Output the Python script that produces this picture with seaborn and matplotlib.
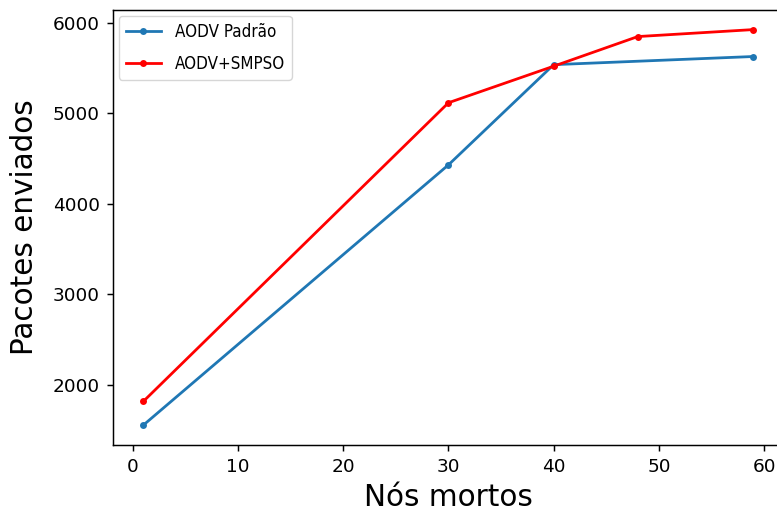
import matplotlib
matplotlib.use('Agg')
import matplotlib.pyplot as plt
import seaborn as sns

nos_padrao = [1, 30, 40, 59]
pacotes_padrao = [1560, 4430, 5535, 5625]

nos_smpso = [1, 30, 40, 48, 59]
pacotes_smpso = [1822, 5115, 5518, 5845, 5922]

# the reference looks like a 72 dpi figure scaled up, so sizes grow by ~1.33
s = 1.33
plt.rcParams['axes.linewidth'] = 0.8 * s
plt.rcParams['xtick.major.size'] = 3.5 * s
plt.rcParams['ytick.major.size'] = 3.5 * s
plt.rcParams['xtick.major.width'] = 0.8 * s
plt.rcParams['ytick.major.width'] = 0.8 * s
plt.rcParams['xtick.major.pad'] = 3.5 * s
plt.rcParams['ytick.major.pad'] = 3.5 * s
plt.rcParams['xtick.labelsize'] = 10 * s
plt.rcParams['ytick.labelsize'] = 10 * s

fig, ax = plt.subplots(figsize=(7.77, 5.16), dpi=100)
fig.subplots_adjust(left=0.1454, right=1.009, top=0.981, bottom=0.138)

sns.lineplot(x=nos_padrao, y=pacotes_padrao, ax=ax, color='#1f77b4', linewidth=1.5 * s,
             marker='o', markersize=5, markeredgewidth=0, label='AODV Padrão')
sns.lineplot(x=nos_smpso, y=pacotes_smpso, ax=ax, color='red', linewidth=1.5 * s,
             marker='o', markersize=5, markeredgewidth=0, label='AODV+SMPSO')

ax.set_xlabel('Nós mortos', fontsize=16 * s, labelpad=4 * s)
ax.set_ylabel('Pacotes enviados', fontsize=16 * s, labelpad=10)
ax.legend(loc='upper left', prop={'family': 'DejaVu Sans', 'stretch': 'condensed', 'size': 12.2},
          borderaxespad=0.35, handlelength=2.1, labelspacing=0.85)

plt.savefig('out.png', dpi=100)
